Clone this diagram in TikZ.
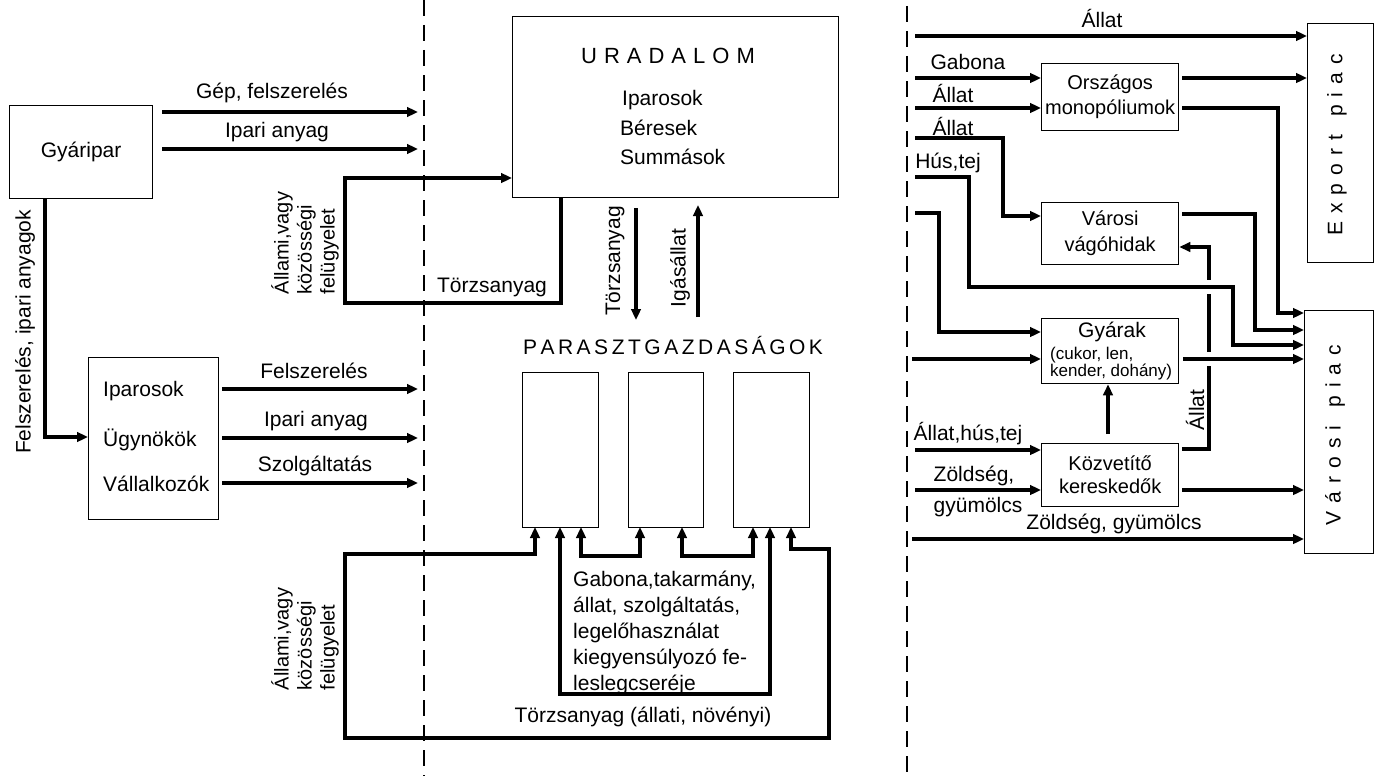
\documentclass[tikz,border=0pt]{standalone}
\usepackage{fontspec}
\setmainfont{Liberation Sans}
\usetikzlibrary{arrows.meta}
\begin{document}
\begin{tikzpicture}[x=1pt,y=-1pt,
  every node/.style={inner sep=0pt, font=\fontsize{21}{23}\selectfont},
  box/.style={draw, line width=1.3pt, anchor=north west},
  flow/.style={line width=3.6pt, -{Triangle[length=11pt,width=9.5pt]}},
  bflow/.style={line width=3.6pt, {Triangle[length=11pt,width=9.5pt]}-{Triangle[length=11pt,width=9.5pt]}},
  divider/.style={line width=2pt, dash pattern=on 16pt off 9pt},
  small/.style={font=\fontsize{17}{17}\selectfont}]
\fill[white] (0,0) rectangle (1380,776);
\useasboundingbox (0,0) rectangle (1380,776);

% dividers
\coordinate (dlt) at (424,0); \coordinate (dlb) at (424,776);
\coordinate (drt) at (907,6); \coordinate (drb) at (907,776);
\draw[divider] (dlt) -- (dlb);
\draw[divider] (drt) -- (drb);

% ---------- boxes ----------
\node[box, minimum width=143pt, minimum height=93pt] (gyar) at (9,105) {Gyáripar};
\node[box, minimum width=130pt, minimum height=162pt] (ipar) at (88,357) {};
\node[anchor=west] (ipar1) at (103,391) {Iparosok};
\node[anchor=west] (ipar2) at (103,440) {Ügynökök};
\node[anchor=west] (ipar3) at (103,484) {Vállalkozók};

\node[box, minimum width=326pt, minimum height=181pt] (urad) at (512,16) {};
\node[font=\fontsize{22}{24}\selectfont] (uradt) at (668,56) {U\kern7pt R\kern7pt A\kern7pt D\kern7pt A\kern7pt L\kern7pt O\kern7pt M};
\node[anchor=west] (urad1) at (622,100) {Iparosok};
\node[anchor=west] (urad2) at (620,128) {Béresek};
\node[anchor=west] (urad3) at (620,157) {Summások};

\node (parlbl) at (673,345) {P\kern3.5pt A\kern3.5pt R\kern3.5pt A\kern3.5pt S\kern3.5pt Z\kern3.5pt T\kern3.5pt G\kern3.5pt A\kern3.5pt Z\kern3.5pt D\kern3.5pt A\kern3.5pt S\kern3.5pt Á\kern3.5pt G\kern3.5pt O\kern3.5pt K};
\node[box, minimum width=76pt, minimum height=155pt] (p1) at (522,372) {};
\node[box, minimum width=75pt, minimum height=155pt] (p2) at (628,372) {};
\node[box, minimum width=76pt, minimum height=155pt] (p3) at (733,372) {};

\node[box, minimum width=66pt, minimum height=239pt] (exp) at (1307,23) {};
\node[rotate=90] (expt) at (1337,145) {E\kern8pt x\kern8pt p\kern8pt o\kern8pt r\kern8pt t\kern18pt p\kern8pt i\kern8pt a\kern8pt c};
\node[box, minimum width=69pt, minimum height=243pt] (var) at (1304,310) {};
\node[rotate=90] (vart) at (1335,435) {V\kern8pt á\kern8pt r\kern8pt o\kern8pt s\kern8pt i\kern18pt p\kern8pt i\kern8pt a\kern8pt c};

\node[box, minimum width=137pt, minimum height=67pt, align=center, font=\fontsize{20}{25}\selectfont] (orsz) at (1041,63) {Országos\\monopóliumok};
\node[box, minimum width=137pt, minimum height=62pt, align=center, font=\fontsize{20}{26}\selectfont] (vago) at (1041,202) {Városi\\vágóhidak};
\node[box, minimum width=137pt, minimum height=65pt] (gyarak) at (1041,318) {};
\node (gyarak1) at (1112,332) {Gyárak};
\node[small, anchor=west, align=left] (gyarak2) at (1050,364) {(cukor, len,\\kender, dohány)};
\node[box, minimum width=137pt, minimum height=63pt, align=center, font=\fontsize{20}{23}\selectfont] (kozv) at (1041,443) {Közvetítő\\kereskedők};

% ---------- labels ----------
\node (lgep) at (272,93) {Gép, felszerelés};
\node (lia1) at (277,132) {Ipari anyag};
\node[rotate=90] (lfia) at (25,332) {Felszerelés, ipari anyagok};
\node (lfel) at (314,371) {Felszerelés};
\node (lia2) at (316,421) {Ipari anyag};
\node (lszo) at (315,466) {Szolgáltatás};
\node[rotate=90, align=left, font=\fontsize{20}{23}\selectfont] (lall1) at (305,243) {Állami,vagy\\közösségi\\felügyelet};
\node (ltor1) at (492,287) {Törzsanyag};
\node[rotate=90] (ltor2) at (615,261) {Törzsanyag};
\node[rotate=90] (liga) at (680,268) {Igásállat};
\node[rotate=90, align=left, font=\fontsize{20}{23}\selectfont] (lall2) at (305,639) {Állami,vagy\\közösségi\\felügyelet};
\node[anchor=north west, align=left, font=\fontsize{21}{26}\selectfont] (lgab) at (573,571) {Gabona,takarmány,\\állat, szolgáltatás,\\legelőhasználat\\kiegyensúlyozó fe-\\leslegcseréje};
\node (ltor3) at (643,717) {Törzsanyag (állati, növényi)};

\node (lall3) at (1102,18) {Állat};
\node (lgabo) at (968,62) {Gabona};
\node (lall4) at (953,93) {Állat};
\node (lall5) at (953,126) {Állat};
\node (lhus) at (948,163) {Hús,tej};
\node (lallhus) at (968,434) {Állat,hús,tej};
\node (lzold1) at (974,476) {Zöldség,};
\node (lgyum1) at (978,507) {gyümölcs};
\node (lzold2) at (1114,524) {Zöldség, gyümölcs};
\node[rotate=90] (lall6) at (1195,410) {Állat};

% ---------- left connectors ----------
\coordinate (e1) at (418,112);
\coordinate (e2) at (418,149);
\coordinate (e3) at (418,389);
\coordinate (e4) at (418,438);
\coordinate (e5) at (418,483);
\draw[flow] (162,112) -- (e1);
\draw[flow] (162,149) -- (e2);
\draw[flow] (gyar.south west) ++(36,0) -- (45,437) -- (ipar.west |- 0,437);
\draw[flow] (222,389) -- (e3);
\draw[flow] (222,438) -- (e4);
\draw[flow] (222,483) -- (e5);

% uradalom loop
\draw[flow] (561,197) -- (561,303) -- (345,303) -- (345,178) -- (urad.west |- 0,178);
\draw[flow] (636,208) -- (636,320);
\draw[flow] (698,317) -- (698,205);

% peasant loops
\draw[bflow] (535,527) -- (535,554) -- (345,554) -- (345,738) -- (829,738) -- (829,549) -- (791,549) -- (791,527);
\draw[bflow] (560,527) -- (560,694) -- (770,694) -- (770,527);
\draw[bflow] (581,527) -- (581,556) -- (640,556) -- (640,527);
\draw[bflow] (682,527) -- (682,556) -- (753,556) -- (753,527);

% ---------- right connectors ----------
\coordinate (s1) at (915,36);
\coordinate (s2) at (915,78);
\coordinate (s3) at (915,108);
\coordinate (s4) at (915,138);
\coordinate (s5) at (915,177);
\coordinate (s6) at (915,213);
\coordinate (s7) at (912,359);
\coordinate (s8) at (915,450);
\coordinate (s9) at (915,490);
\coordinate (s10) at (912,539);
\draw[flow] (s1) -- (exp.west |- s1);
\draw[flow] (s2) -- (orsz.west |- s2);
\draw[flow] (s3) -- (orsz.west |- s3);
\draw[flow] (1182,78) -- (exp.west |- 0,78);
\draw[flow] (1182,108) -- (1278,108) -- (1278,313) -- (var.west |- 0,313);
\draw[flow] (s4) -- (1003,138) -- (1003,216) -- (vago.west |- 0,216);
\draw[flow] (1182,214) -- (1255,214) -- (1255,330) -- (var.west |- 0,330);
\draw[flow] (s6) -- (939,213) -- (939,332) -- (gyarak.west |- 0,332);
\draw[flow] (s8) -- (kozv.west |- s8);
\draw[flow] (s9) -- (kozv.west |- s9);
\draw[flow] (1182,490) -- (var.west |- 0,490);
\draw[flow] (s10) -- (var.west |- s10);
\draw[flow] (1108,434) -- (gyarak.south -| 1108,0);
\draw[flow] (1182,449) -- (1209,449) -- (1209,247) -- (vago.east |- 0,247);
\fill[white] (1201,280) rectangle (1217,294);
\fill[white] (1201,352) rectangle (1217,366);
\draw[flow] (s5) -- (969,177) -- (969,287) -- (1233,287) -- (1233,345) -- (var.west |- 0,345);
\draw[flow] (s7) -- (gyarak.west |- s7);
\draw[flow] (1183,359) -- (var.west |- 0,359);
\end{tikzpicture}
\end{document}
